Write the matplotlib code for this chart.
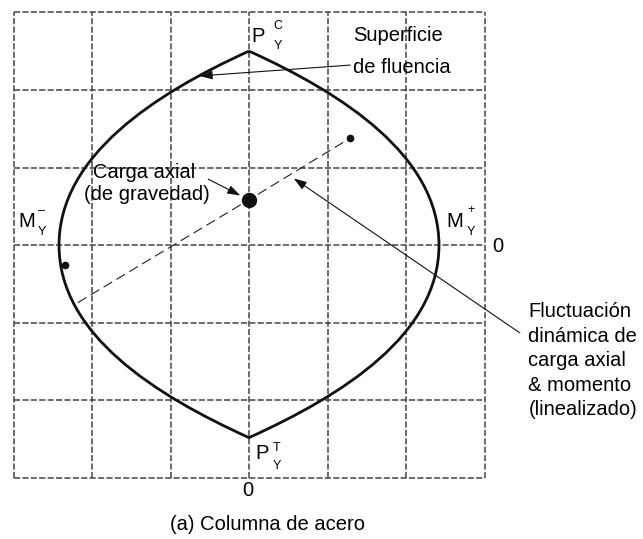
import matplotlib
matplotlib.use('Agg')
import matplotlib.pyplot as plt
from matplotlib.path import Path
from matplotlib.patches import PathPatch, FancyArrowPatch

plt.rcParams['font.family'] = ['Liberation Sans', 'DejaVu Sans']

# grid divisions (moment on x, axial load on y), normalised units
grid_ticks = [-3, -2, -1, 0, 1, 2, 3]

# yield surface outline: cusp at P_Y^C, round at M_Y^+, cusp at P_Y^T,
# round at M_Y^-, back to P_Y^C (cubic bezier control polygon)
surface_x = [0.0, 1.20, 2.42, 2.42, 2.42, 1.20, 0.0,
             -1.20, -2.42, -2.42, -2.42, -1.20, 0.0]
surface_y = [2.50, 1.95, 1.15, 0.0, -1.15, -1.93, -2.48,
             -1.93, -1.15, 0.0, 1.15, 1.95, 2.50]

# gravity load point and linearised load/moment fluctuation
gravity_pt = (0.0, 0.585)
fluct_x = [-2.18, 0.0, 1.29]
fluct_y = [-0.74, 0.585, 1.38]
fluct_ends_x = [1.29, -2.35]
fluct_ends_y = [1.38, -0.26]

fig = plt.figure(figsize=(6.43, 5.39), dpi=100)
ax = fig.add_axes([13.5 / 643, 1 - 478 / 539, 471 / 643, 465.7 / 539])
ax.set_xlim(-3, 3)
ax.set_ylim(-3, 3)
ax.axis('off')

grid_kw = dict(color='#444444', lw=1.1, linestyle=(0, (4, 1.5)), clip_on=False, zorder=1)
for g in grid_ticks:
    ax.plot([g, g], [-3, 3], **grid_kw)
    ax.plot([-3, 3], [g, g], **grid_kw)

codes = [Path.MOVETO] + [Path.CURVE4] * (len(surface_x) - 1)
surface = Path(list(zip(surface_x, surface_y)), codes)
ax.add_patch(PathPatch(surface, facecolor='none', edgecolor='#111111', lw=2.0,
                       joinstyle='miter', zorder=3))

ax.plot(fluct_x, fluct_y, color='#222222', lw=0.8, linestyle=(0, (9, 4.5)), zorder=2)
ax.plot(fluct_ends_x, fluct_ends_y, 'o', color='#111111', ms=4.5, zorder=4)
ax.plot(*gravity_pt, 'o', color='#111111', ms=10, zorder=4)

font = 14.5
small = 9

# corner labels
ax.text(0.12, 2.69, 'P', fontsize=font, ha='center', va='center')
ax.text(0.37, 2.82, 'C', fontsize=small, ha='center', va='center')
ax.text(0.37, 2.56, 'Y', fontsize=small, ha='center', va='center')

ax.text(0.17, -2.68, 'P', fontsize=font, ha='center', va='center')
ax.text(0.35, -2.61, 'T', fontsize=small, ha='center', va='center')
ax.text(0.36, -2.84, 'Y', fontsize=small, ha='center', va='center')

ax.text(-2.83, 0.31, 'M', fontsize=font, ha='center', va='center')
ax.text(-2.64, 0.44, '\u2013', fontsize=small, ha='center', va='center')
ax.text(-2.64, 0.17, 'Y', fontsize=small, ha='center', va='center')

ax.text(2.62, 0.31, 'M', fontsize=font, ha='center', va='center')
ax.text(2.83, 0.45, '+', fontsize=small, ha='center', va='center')
ax.text(2.83, 0.17, 'Y', fontsize=small, ha='center', va='center')

ax.text(3.17, -0.02, '0', fontsize=font, ha='center', va='center')
ax.text(-0.01, -3.16, '0', fontsize=font, ha='center', va='center')

# annotations
ax.text(1.33, 2.70, 'Superficie', fontsize=font, ha='left', va='center')
ax.text(1.33, 2.29, 'de fluencia', fontsize=font, ha='left', va='center')
ax.text(-1.33, 0.94, 'Carga axial', fontsize=font, ha='center', va='center')
ax.text(-1.30, 0.65, '(de gravedad)', fontsize=font, ha='center', va='center')

fluct_lines = ['Fluctuación', 'dinámica de', 'carga axial', '& momento', '(linealizado)']
fluct_text_y = [-0.86, -1.18, -1.49, -1.81, -2.12]
for line, yy in zip(fluct_lines, fluct_text_y):
    ax.text(3.56, yy, line, fontsize=font, ha='left', va='center')

arrow_kw = dict(arrowstyle='-|>,head_length=0.65,head_width=0.22', mutation_scale=12,
                color='#111111', lw=0.8, shrinkA=0, shrinkB=0, clip_on=False, zorder=5)
ax.add_patch(FancyArrowPatch((1.29, 2.32), (-0.63, 2.18), **arrow_kw))
ax.add_patch(FancyArrowPatch((-0.52, 0.85), (-0.11, 0.64), **arrow_kw))
ax.add_patch(FancyArrowPatch((3.45, -1.13), (0.57, 0.86), **arrow_kw))

fig.text(267 / 643, 1 - 524 / 539, '(a) Columna de acero', fontsize=font,
         ha='center', va='center')

fig.savefig('out.png', dpi=100)
